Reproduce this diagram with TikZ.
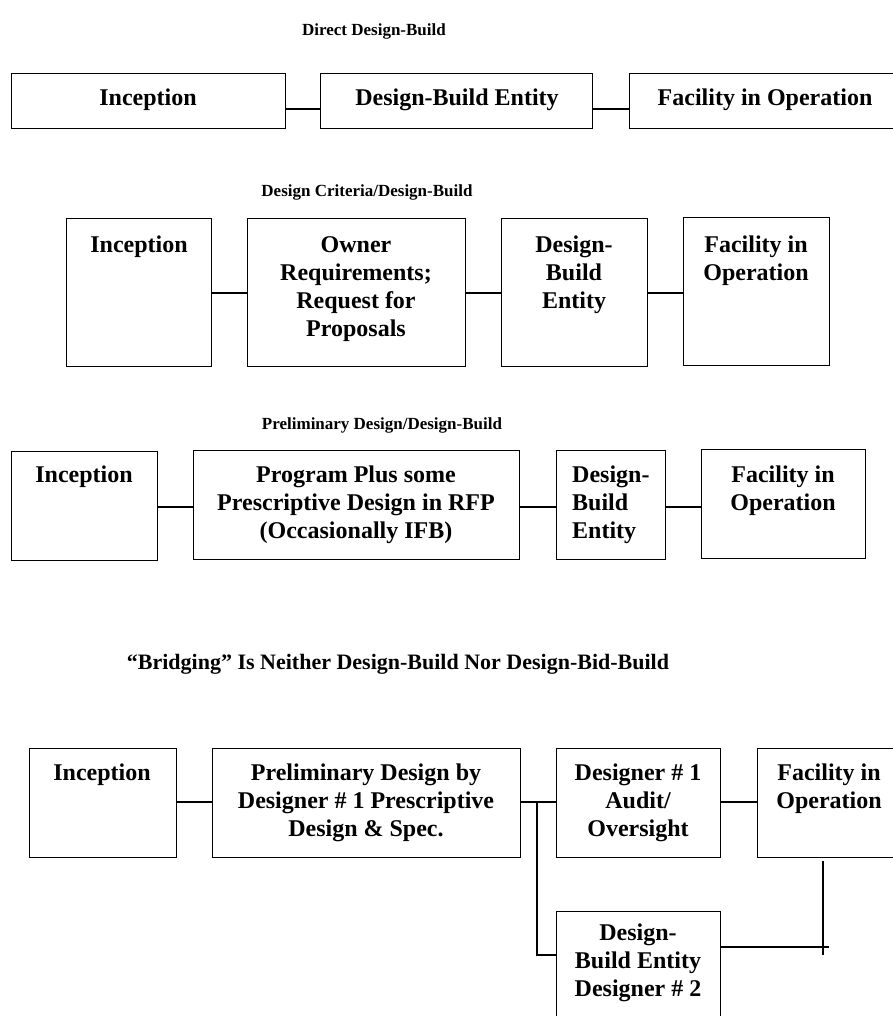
\documentclass[tikz,border=0pt]{standalone}
\usepackage{fontspec}
\setmainfont{Liberation Serif}
\begin{document}
\begin{tikzpicture}[x=1pt,y=-1pt]
\tikzset{
  box/.style={draw, rectangle, line width=1.3pt, inner sep=0pt, anchor=north west},
  link/.style={line width=1.2pt},
  % multi-line labels are placed by the baseline of their last line
  lbl/.style={font=\bfseries\fontsize{24}{28}\selectfont, align=center, inner sep=0pt, anchor=base},
  lbll/.style={font=\bfseries\fontsize{24}{28}\selectfont, align=left, inner sep=0pt, anchor=base west},
  ttl/.style={font=\bfseries\fontsize{17}{20}\selectfont, inner sep=0pt, anchor=base},
}
\useasboundingbox (0,0) rectangle (892,1016);

% ---------- Direct Design-Build ----------
\node[ttl] (t1) at (374,36) {Direct Design-Build};
\node[box, minimum width=274, minimum height=55] (r1a) at (11,73) {};
\node[box, minimum width=272, minimum height=55] (r1b) at (320,73) {};
\node[box, minimum width=275, minimum height=55] (r1c) at (629,73) {};
\node[lbl] (r1at) at (148,106) {Inception};
\node[lbl] (r1bt) at (457,106) {Design-Build Entity};
\node[lbl] (r1ct) at (765,106) {Facility in Operation};
\coordinate (y1) at (0,109);
\draw[link] (r1a.east |- y1) -- (r1b.west |- y1);
\draw[link] (r1b.east |- y1) -- (r1c.west |- y1);

% ---------- Design Criteria/Design-Build ----------
\node[ttl] (t2) at (367,197) {Design Criteria/Design-Build};
\node[box, minimum width=145, minimum height=148] (r2a) at (66,218) {};
\node[box, minimum width=218, minimum height=148] (r2b) at (247,218) {};
\node[box, minimum width=146, minimum height=148] (r2c) at (501,218) {};
\node[box, minimum width=146, minimum height=148] (r2d) at (683,217) {};
\node[lbl] (r2at) at (139,252) {Inception};
\node[lbl] (r2bt) at (356,336) {Owner\\Requirements;\\Request for\\Proposals};
\node[lbl] (r2ct) at (574,308) {Design-\\Build\\Entity};
\node[lbl] (r2dt) at (756,280) {Facility in\\Operation};
\coordinate (y2) at (0,293);
\draw[link] (r2a.east |- y2) -- (r2b.west |- y2);
\draw[link] (r2b.east |- y2) -- (r2c.west |- y2);
\draw[link] (r2c.east |- y2) -- (r2d.west |- y2);

% ---------- Preliminary Design/Design-Build ----------
\node[ttl] (t3) at (382,429) {Preliminary Design/Design-Build};
\node[box, minimum width=146, minimum height=109] (r3a) at (11,451) {};
\node[box, minimum width=326, minimum height=109] (r3b) at (193,450) {};
\node[box, minimum width=109, minimum height=109] (r3c) at (556,450) {};
\node[box, minimum width=164, minimum height=109] (r3d) at (701,449) {};
\node[lbl] (r3at) at (84,482) {Inception};
\node[lbl] (r3bt) at (356,538) {Program Plus some\\Prescriptive Design in RFP\\(Occasionally IFB)};
\node[lbll] (r3ct) at (572,538) {Design-\\Build\\Entity};
\node[lbl] (r3dt) at (783,510) {Facility in\\Operation};
\coordinate (y3) at (0,507);
\draw[link] (r3a.east |- y3) -- (r3b.west |- y3);
\draw[link] (r3b.east |- y3) -- (r3c.west |- y3);
\draw[link] (r3c.east |- y3) -- (r3d.west |- y3);

% ---------- Bridging ----------
\node[ttl, font=\bfseries\fontsize{22}{25}\selectfont] (t4) at (398,669) {“Bridging” Is Neither Design-Build Nor Design-Bid-Build};
\node[box, minimum width=147, minimum height=109] (r4a) at (29,748) {};
\node[box, minimum width=308, minimum height=109] (r4b) at (212,748) {};
\node[box, minimum width=164, minimum height=109] (r4c) at (556,748) {};
\node[box, minimum width=144, minimum height=109] (r4d) at (757,748) {};
\node[box, minimum width=164, minimum height=130] (r4e) at (556,911) {};
\node[lbl] (r4at) at (102,780) {Inception};
\node[lbl] (r4bt) at (366,836) {Preliminary Design by\\Designer \# 1 Prescriptive\\Design \& Spec.};
\node[lbl] (r4ct) at (638,836) {Designer \# 1\\Audit/\\Oversight};
\node[lbl] (r4dt) at (829,808) {Facility in\\Operation};
\node[lbl] (r4et) at (638,996) {Design-\\Build Entity\\Designer \# 2};
\coordinate (y4) at (0,802);
\draw[link] (r4a.east |- y4) -- (r4b.west |- y4);
\draw[link] (r4b.east |- y4) -- (r4c.west |- y4);
\draw[link] (r4c.east |- y4) -- (r4d.west |- y4);
% branch down to the second design-build entity
\coordinate (br) at (537,802);
\coordinate (yb) at (0,955);
\draw[link] (br) |- (r4e.west |- yb);
% return line up to the facility
\coordinate (ye) at (0,947);
\coordinate (tie) at (829,947);
\coordinate (vtop) at (823,861);
\coordinate (vbot) at (823,955);
\draw[link] (r4e.east |- ye) -- (tie);
\draw[link] (vtop) -- (vbot);
\end{tikzpicture}
\end{document}
